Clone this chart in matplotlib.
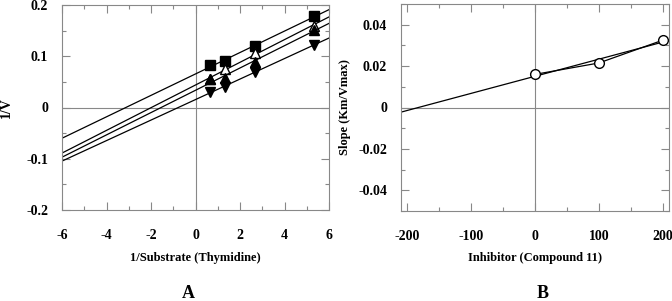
import numpy as np
import matplotlib.pyplot as plt
from matplotlib.ticker import MultipleLocator

plt.rcParams['font.family'] = ['Liberation Serif', 'DejaVu Serif']
plt.rcParams['font.weight'] = 'bold'
plt.rcParams['axes.labelweight'] = 'bold'
plt.rcParams['axes.unicode_minus'] = False
plt.rcParams['font.size'] = 10

# panel A: Lineweaver-Burk data
inv_s = [0.667, 1.333, 2.667, 5.333]
sq_v = [0.083, 0.090, 0.120, 0.178]
open_tri_v = [0.055, 0.075, 0.107, 0.160]
tri_v = [0.055, 0.057, 0.088, 0.152]
down_v = [0.030, 0.040, 0.070, 0.122]

# panel B: replot of slopes
inhib = [0, 100, 200]
slopes = [0.016, 0.0215, 0.0325]

grey = '#888888'

def frame(ax):
    for s in ax.spines.values():
        s.set_color(grey)
        s.set_linewidth(0.8)
    ax.tick_params(which='both', direction='in', top=True, right=True, color=grey)
    ax.tick_params(which='major', length=6, width=0.8)
    ax.tick_params(which='minor', length=3, width=0.8)
    ax.tick_params(axis='x', which='major', pad=14)
    ax.tick_params(axis='y', which='major', pad=10)
    ax.axhline(0, color=grey, lw=0.8, zorder=0)
    ax.axvline(0, color=grey, lw=0.8, zorder=0)

fig = plt.figure(figsize=(6.72, 3.01), dpi=100)
ax1 = fig.add_axes([62/672, 1-210/301, 267/672, 205/301])
ax2 = fig.add_axes([401/672, 1-211/301, 268/672, 207/301])

xx = np.array([-6, 6])
for v, m, fc in [(sq_v, 's', 'k'), (open_tri_v, '^', 'w'), (tri_v, '^', 'k'), (down_v, 'v', 'k')]:
    k, b = np.polyfit(inv_s, v, 1)
    ax1.plot(xx, k*xx+b, color='k', lw=0.9)
    ax1.plot(inv_s, v, m, color='k', mfc=fc, mec='k', ms=6.5, lw=0)
ax1.set_xlim(-6, 6)
ax1.set_ylim(-0.2, 0.2)
ax1.xaxis.set_major_locator(MultipleLocator(2))
ax1.xaxis.set_minor_locator(MultipleLocator(1))
ax1.set_yticks([-0.2, -0.1, 0, 0.1, 0.2], ['-0.2', '-0.1', '0', '0.1', '0.2'])
ax1.yaxis.set_minor_locator(MultipleLocator(0.05))
frame(ax1)
ax1.set_xlabel('1/Substrate (Thymidine)', fontsize=9)
ax1.xaxis.set_label_coords(0.5, -0.205)
ax1.set_ylabel('1/V', fontsize=10)
ax1.yaxis.set_label_coords(-0.182, 0.5)
fig.text(188/672, 1-294/301, 'A', ha='center', va='center', fontsize=13)

xb = np.array([-210, 210])
k, b = np.polyfit(inhib, slopes, 1)
ax2.plot(xb, k*xb+b, color='k', lw=0.9)
ax2.plot(inhib, slopes, 'o-', color='k', mfc='w', mec='k', ms=7, lw=0.9)
ax2.set_xlim(-210, 210)
ax2.set_ylim(-0.05, 0.05)
ax2.xaxis.set_major_locator(MultipleLocator(100))
ax2.xaxis.set_minor_locator(MultipleLocator(50))
ax2.set_yticks([-0.04, -0.02, 0, 0.02, 0.04], ['-0.04', '-0.02', '0', '0.02', '0.04'])
ax2.yaxis.set_minor_locator(MultipleLocator(0.01))
frame(ax2)
ax2.set_xlabel('Inhibitor (Compound 11)', fontsize=9)
ax2.xaxis.set_label_coords(0.5, -0.198)
ax2.set_ylabel('Slope (Km/Vmax)', fontsize=9)
ax2.yaxis.set_label_coords(-0.187, 0.5)
fig.text(543/672, 1-294/301, 'B', ha='center', va='center', fontsize=13)

fig.savefig('out.png', dpi=100)
